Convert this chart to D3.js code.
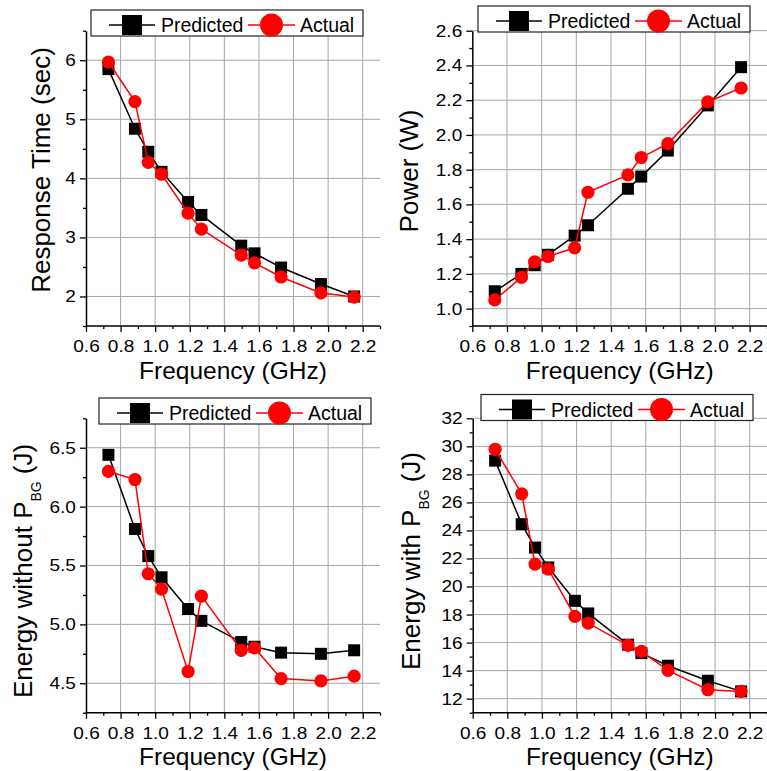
<!DOCTYPE html>
<html>
<head>
<meta charset="utf-8">
<script src="https://cdn.jsdelivr.net/npm/d3@7"></script>
<style>
body { margin: 0; background: #fff; }
svg { display: block; font-family: "Liberation Sans", Arial, sans-serif; }
</style>
</head>
<body>
<script>
// CPU frequencies (GHz)
const freqGHz = [0.7296, 0.8832, 0.96, 1.0368, 1.1904, 1.2672, 1.4976, 1.5744, 1.728, 1.9584, 2.1504]

// response time (sec)
const respPred   = [5.85, 4.84, 4.45, 4.11, 3.60, 3.38, 2.86, 2.73, 2.49, 2.21, 2.00]
const respActual = [5.97, 5.30, 4.27, 4.07, 3.41, 3.14, 2.70, 2.57, 2.33, 2.06, 1.99]

// power (W)
const powerPred   = [1.10, 1.20, 1.25, 1.31, 1.42, 1.48, 1.69, 1.76, 1.91, 2.17, 2.39]
const powerActual = [1.05, 1.18, 1.27, 1.30, 1.35, 1.67, 1.77, 1.87, 1.95, 2.19, 2.27]

// energy without P_BG (J)
const enNoBgPred   = [6.44, 5.81, 5.58, 5.40, 5.13, 5.03, 4.85, 4.81, 4.76, 4.75, 4.78]
const enNoBgActual = [6.30, 6.23, 5.43, 5.30, 4.60, 5.24, 4.78, 4.80, 4.54, 4.52, 4.56]

// energy with P_BG (J)
const enBgPred   = [28.98, 24.45, 22.78, 21.36, 18.98, 18.08, 15.85, 15.25, 14.35, 13.28, 12.52]
const enBgActual = [29.79, 26.61, 21.60, 21.24, 17.87, 17.39, 15.80, 15.37, 14.02, 12.64, 12.52]

// tick labels
const xTicks = [0.6, 0.8, 1.0, 1.2, 1.4, 1.6, 1.8, 2.0, 2.2]
const xMinor = [0.7, 0.9, 1.1, 1.3, 1.5, 1.7, 1.9, 2.1, 2.3]
const respTicks = [2, 3, 4, 5, 6]
const powerTicks = [1.0, 1.2, 1.4, 1.6, 1.8, 2.0, 2.2, 2.4, 2.6]
const enNoBgTicks = [4.5, 5.0, 5.5, 6.0, 6.5]
const enBgTicks = [12, 14, 16, 18, 20, 22, 24, 26, 28, 30, 32]
const seriesNames = ['Predicted', 'Actual']

let width = 767
let height = 771

const svg = d3.select('body').append('svg').attr('width', width).attr('height', height)

const panels = [
  {left: 86, top: 30.7, right: 380, bottom: 326, ydom: [1.5, 6.5], ticks: respTicks, minorStep: 0.5, fmt: d3.format('d'),
   pred: respPred, act: respActual, legend: [91, 10], label: ['Response Time (sec)'], labelX: 50, labelY: 170},
  {left: 472.3, top: 30.7, right: 767, bottom: 326, ydom: [0.9, 2.6], ticks: powerTicks, minorStep: 0.1, fmt: d3.format('.1f'),
   pred: powerPred, act: powerActual, legend: [478, 6], label: ['Power (W)'], labelX: 418, labelY: 171},
  {left: 86, top: 418.3, right: 380, bottom: 712.7, ydom: [4.25, 6.75], ticks: enNoBgTicks, minorStep: 0.25, fmt: d3.format('.1f'),
   pred: enNoBgPred, act: enNoBgActual, legend: [99, 398], label: ['Energy without P', 'BG', '(J)'], labelX: 32, labelY: 571},
  {left: 472.7, top: 418.3, right: 767, bottom: 712.7, ydom: [11, 32], ticks: enBgTicks, minorStep: 1, fmt: d3.format('d'),
   pred: enBgPred, act: enBgActual, legend: [481, 394.5], label: ['Energy with P', 'BG', '(J)'], labelX: 420, labelY: 561}
]

const drawPanel = (p) => {
  // 0.6 .. 2.2 spans 16/17 of the axis length (axis ends at 2.3)
  let x = d3.scaleLinear().domain([0.6, 2.2]).range([p.left, p.left + (p.right - p.left) * 1.6 / 1.7])
  let y = d3.scaleLinear().domain(p.ydom).range([p.bottom, p.top])

  let yMinor = d3.range(p.ydom[0], p.ydom[1] + 1e-9, p.minorStep).filter(v => !p.ticks.some(t => Math.abs(t - v) < 1e-6))

  const g = svg.append('g')

  // grid
  g.selectAll('.vgrid').data(xTicks.slice(1)).enter().append('line')
    .attr('x1', d => x(d)).attr('x2', d => x(d))
    .attr('y1', p.top).attr('y2', p.bottom)
    .attr('stroke', '#a6a6a6').attr('stroke-width', 1)
  g.selectAll('.hgrid').data(p.ticks).enter().append('line')
    .attr('x1', p.left).attr('x2', p.right)
    .attr('y1', d => y(d)).attr('y2', d => y(d))
    .attr('stroke', '#a6a6a6').attr('stroke-width', 1)

  // axes
  const xAxis = g.append('g').attr('transform', `translate(0,${p.bottom})`)
    .call(d3.axisBottom(x).tickValues(xTicks).tickFormat(d3.format('.1f')).tickSize(6).tickSizeOuter(0).tickPadding(8))
  const xMin = g.append('g').attr('transform', `translate(0,${p.bottom})`)
    .call(d3.axisBottom(x).tickValues(xMinor).tickFormat('').tickSize(3).tickSizeOuter(0))
  xMin.select('.domain').remove()
  xMin.selectAll('text').remove()
  xAxis.select('.domain').attr('d', `M${p.left},0H${p.right}`)

  const yAxis = g.append('g').attr('transform', `translate(${p.left},0)`)
    .call(d3.axisLeft(y).tickValues(p.ticks).tickFormat(p.fmt).tickSize(6).tickSizeOuter(0).tickPadding(3))
  const yMin = g.append('g').attr('transform', `translate(${p.left},0)`)
    .call(d3.axisLeft(y).tickValues(yMinor).tickFormat('').tickSize(3).tickSizeOuter(0))
  yMin.select('.domain').remove()
  yMin.selectAll('text').remove()

  g.selectAll('.domain').attr('stroke', '#000').attr('stroke-width', 1.5)
  g.selectAll('.tick line').attr('stroke', '#000').attr('stroke-width', 1.3)
  // tick labels in the original are slightly wide
  g.selectAll('.tick text').attr('font-size', 17).attr('fill', '#000')
    .attr('font-family', '"Liberation Sans", Arial, sans-serif')
    .attr('transform', 'scale(1.12,1)')

  // x title
  g.append('text')
    .attr('x', (p.left + p.right) / 2).attr('y', p.bottom + 52.5)
    .attr('text-anchor', 'middle').attr('font-size', 24.5)
    .text('Frequency (GHz)')

  // y title
  const yl = g.append('text')
    .attr('transform', `translate(${p.labelX},${p.labelY}) rotate(-90)`)
    .attr('text-anchor', 'middle').attr('font-size', 26)
  yl.append('tspan').text(p.label[0])
  if (p.label.length > 1) {
    yl.append('tspan').attr('dy', 9).attr('font-size', 14).text(p.label[1])
    yl.append('tspan').attr('dy', -9).attr('dx', 7).text(p.label[2])
  }

  const line = d3.line().x((d, i) => x(freqGHz[i])).y(d => y(d))

  // predicted
  g.append('path').datum(p.pred).attr('d', line)
    .attr('fill', 'none').attr('stroke', '#000').attr('stroke-width', 1.5)
  g.selectAll('.sq').data(p.pred).enter().append('rect')
    .attr('x', (d, i) => x(freqGHz[i]) - 6).attr('y', d => y(d) - 6)
    .attr('width', 12).attr('height', 12).attr('fill', '#000')

  // actual
  g.append('path').datum(p.act).attr('d', line)
    .attr('fill', 'none').attr('stroke', '#ff0000').attr('stroke-width', 1.5)
  g.selectAll('.ci').data(p.act).enter().append('circle')
    .attr('cx', (d, i) => x(freqGHz[i])).attr('cy', d => y(d))
    .attr('r', 6.6).attr('fill', '#ff0000')

  // legend
  const lg = g.append('g').attr('transform', `translate(${p.legend[0]},${p.legend[1]})`)
  lg.append('rect').attr('width', 272).attr('height', 26)
    .attr('fill', '#fff').attr('stroke', '#222').attr('stroke-width', 1.2)
  lg.append('line').attr('x1', 18).attr('x2', 64).attr('y1', 15).attr('y2', 15)
    .attr('stroke', '#000').attr('stroke-width', 1.5)
  lg.append('rect').attr('x', 31).attr('y', 5).attr('width', 20).attr('height', 20).attr('fill', '#000')
  lg.append('text').attr('x', 70).attr('y', 22).attr('font-size', 19.5).text(seriesNames[0])
  lg.append('line').attr('x1', 157).attr('x2', 204).attr('y1', 15).attr('y2', 15)
    .attr('stroke', '#ff0000').attr('stroke-width', 1.5)
  lg.append('circle').attr('cx', 180.5).attr('cy', 15).attr('r', 11.5).attr('fill', '#ff0000')
  lg.append('text').attr('x', 209).attr('y', 22).attr('font-size', 19.5).text(seriesNames[1])
}

panels.forEach(drawPanel)
</script>
</body>
</html>
